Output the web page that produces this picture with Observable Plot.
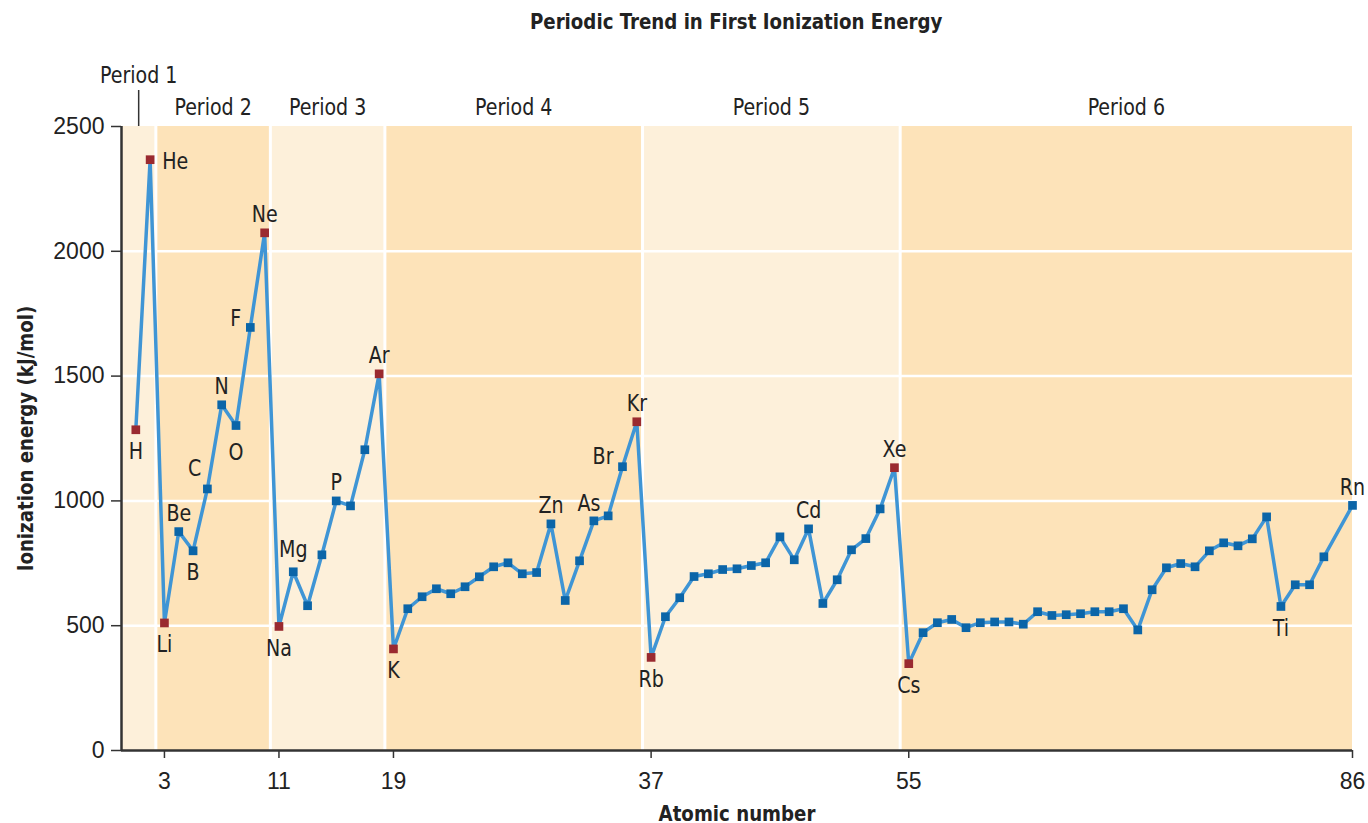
<!DOCTYPE html>
<html>
<head>
<meta charset="utf-8">
<script src="https://cdn.jsdelivr.net/npm/d3@7"></script>
<script src="https://cdn.jsdelivr.net/npm/@observablehq/plot@0.6"></script>
<style>
  body { margin: 0; background: #fff; }
  #title {
    height: 44px; line-height: 44px;
    padding-left: 121px; padding-right: 16px;
    text-align: center;
    font-family: "Liberation Sans Narrow", "Arial Narrow", "DejaVu Sans Condensed", sans-serif;
    font-weight: bold; font-size: 22px; color: #222;
  }
  #title span { display: inline-block; transform: scaleX(0.92); }
</style>
</head>
<body>
<div id="title"><span>Periodic Trend in First Ionization Energy</span></div>
<div id="chart"></div>
<script>
// ---- data ----
const atomicNumbers = [
  1,2,3,4,5,6,7,8,9,10,
  11,12,13,14,15,16,17,18,
  19,20,21,22,23,24,25,26,27,28,29,30,31,32,33,34,35,36,
  37,38,39,40,41,42,43,44,45,46,47,48,49,50,51,52,53,54,
  55,56,57,58,59,60,61,62,63,64,65,66,67,68,69,70,71,72,73,74,75,76,77,78,79,80,81,82,83,84,86
];
const energies = [
  1285,2367,511,877,800,1048,1385,1302,1695,2074,
  497,716,580,784,1000,980,1205,1509,
  407,568,616,648,628,656,696,736,752,708,713,908,601,760,920,940,1137,1317,
  373,536,612,697,708,725,728,741,752,856,764,888,589,684,804,849,968,1133,
  348,472,512,525,492,512,515,515,506,556,541,544,548,556,556,568,483,644,732,749,736,800,832,820,848,936,577,664,664,776,982
];
// elements drawn with red markers in the figure
const redElements = [1,2,3,10,11,18,19,36,37,54,55];

const labelNumbers = [1,2,3,4,5,6,7,8,9,10,11,12,15,18,19,30,33,35,36,37,48,54,55,81,86];
const labelTexts   = ["H","He","Li","Be","B","C","N","O","F","Ne","Na","Mg","P","Ar","K","Zn","As","Br","Kr","Rb","Cd","Xe","Cs","Ti","Rn"];

const periodNames = ["Period 1","Period 2","Period 3","Period 4","Period 5","Period 6"];
const periodStart = [0, 2.4, 10.4, 18.4, 36.4, 54.4];
const periodEnd   = [2.4, 10.4, 18.4, 36.4, 54.4, 86];

const xTicks = [3, 11, 19, 37, 55, 86];
const yTicks = [0, 500, 1000, 1500, 2000, 2500];
const gridValues = [500, 1000, 1500, 2000];

const xLabel = "Atomic number";
const yLabel = "Ionization energy (kJ/mol)";

// ---- styling ----
const NARROW = '"Liberation Sans Narrow", "Arial Narrow", "DejaVu Sans Condensed", sans-serif';
const REG = '"Liberation Sans", Arial, Helvetica, sans-serif';
const LIGHT = "#fdf0da", DARK = "#fde3b9";
const LINE = "#3f95d5", BLUE = "#0b65a8", RED = "#9a2a30", INK = "#222";

const data = atomicNumbers.map((z, i) => ({z, e: energies[i], red: redElements.includes(z)}));
const periods = periodNames.map((name, i) => ({name, start: periodStart[i], end: periodEnd[i], i}));
const energyOf = z => energies[atomicNumbers.indexOf(z)];

// label placement: [dx, dy, textAnchor]
const place = {below: [0, 22, "middle"], above: [0, -18, "middle"]};
const labelPlace = {
  H: place.below, He: [12, 2, "start"], Li: place.below, Be: place.above, B: place.below,
  C: [-6, -20, "end"], N: place.above, O: [0, 27, "middle"], F: [-9, -9, "end"], Ne: place.above,
  Na: place.below, Mg: [0, -22, "middle"], P: place.above, Ar: place.above, K: place.below,
  Zn: place.above, As: [-5, -17, "middle"], Br: [-9, -10, "end"], Kr: place.above, Rb: place.below,
  Cd: place.above, Xe: place.above, Cs: place.below, Ti: place.below, Rn: place.above
};

const labelMarks = labelNumbers.map((z, i) => {
  const t = labelTexts[i];
  const [dx, dy, anchor] = labelPlace[t];
  return Plot.text([{z, e: energyOf(z), t}], {
    x: "z", y: "e", text: "t", dx, dy, textAnchor: anchor,
    fontFamily: NARROW, fontSize: 23, fill: INK, lineAnchor: "middle"
  });
});

const W = 1368, H = 779;
const chart = Plot.plot({
  width: W, height: H,
  marginTop: 82, marginBottom: 73, marginLeft: 121, marginRight: 16,
  x: {domain: [0, 86]},
  y: {domain: [0, 2500]},
  style: {fontFamily: REG, fontSize: "23px", color: INK, background: "white", overflow: "visible"},
  marks: [
    Plot.rect(periods, {x1: "start", x2: "end", y1: 0, y2: 2500, fill: d => d.i % 2 ? DARK : LIGHT}),
    Plot.ruleY(gridValues, {stroke: "white", strokeWidth: 2.5}),
    Plot.ruleX(periodStart.slice(1), {stroke: "white", strokeWidth: 3}),
    Plot.line(data, {x: "z", y: "e", stroke: LINE, strokeWidth: 3.5, strokeLinejoin: "miter"}),
    Plot.dot(data, {x: "z", y: "e", symbol: "square", r: 4.9, fill: d => d.red ? RED : BLUE}),
    ...labelMarks,
    Plot.axisX({ticks: xTicks, tickSize: 8, tickPadding: 14, tickFormat: d => String(d), label: null, stroke: "#333", strokeWidth: 1.5, fontSize: 23}),
    Plot.axisY({ticks: yTicks, tickSize: 10, tickPadding: 7, tickFormat: d => String(d), label: null, stroke: "#333", strokeWidth: 1.5, fontSize: 23}),
    Plot.ruleX([0], {stroke: "#333", strokeWidth: 2.5}),
    Plot.ruleY([0], {stroke: "#333", strokeWidth: 2.5}),
    // period labels
    Plot.text(periods.filter(d => d.i > 0), {x: d => (d.start + d.end) / 2, text: "name", frameAnchor: "top", dy: -19, lineAnchor: "middle", fontFamily: NARROW, fontSize: 23, fill: INK}),
    Plot.text(periods.filter(d => d.i === 0), {x: d => (d.start + d.end) / 2, text: "name", frameAnchor: "top", dy: -51, lineAnchor: "middle", fontFamily: NARROW, fontSize: 23, fill: INK}),
    Plot.ruleX(periods.filter(d => d.i === 0), {x: d => (d.start + d.end) / 2, y1: 2500, y2: 2500, insetBottom: 36, stroke: "#333", strokeWidth: 1.5}),
    // axis titles
    Plot.text([yLabel], {frameAnchor: "left", text: d => d, rotate: -90, dx: -96, textAnchor: "middle", lineAnchor: "middle", fontFamily: NARROW, fontWeight: "bold", fontSize: 22, fill: INK}),
    Plot.text([xLabel], {frameAnchor: "bottom", text: d => d, dy: 63, textAnchor: "middle", lineAnchor: "middle", fontFamily: NARROW, fontWeight: "bold", fontSize: 22, fill: INK})
  ]
});
// condense the narrow-font texts horizontally (Helvetica Condensed look)
chart.querySelectorAll('g[font-family*="Narrow"] text').forEach(el => {
  const t = el.getAttribute("transform") || "";
  el.setAttribute("transform", (t + " scale(0.92,1)").trim());
});
document.getElementById("chart").appendChild(chart);
</script>
</body>
</html>
